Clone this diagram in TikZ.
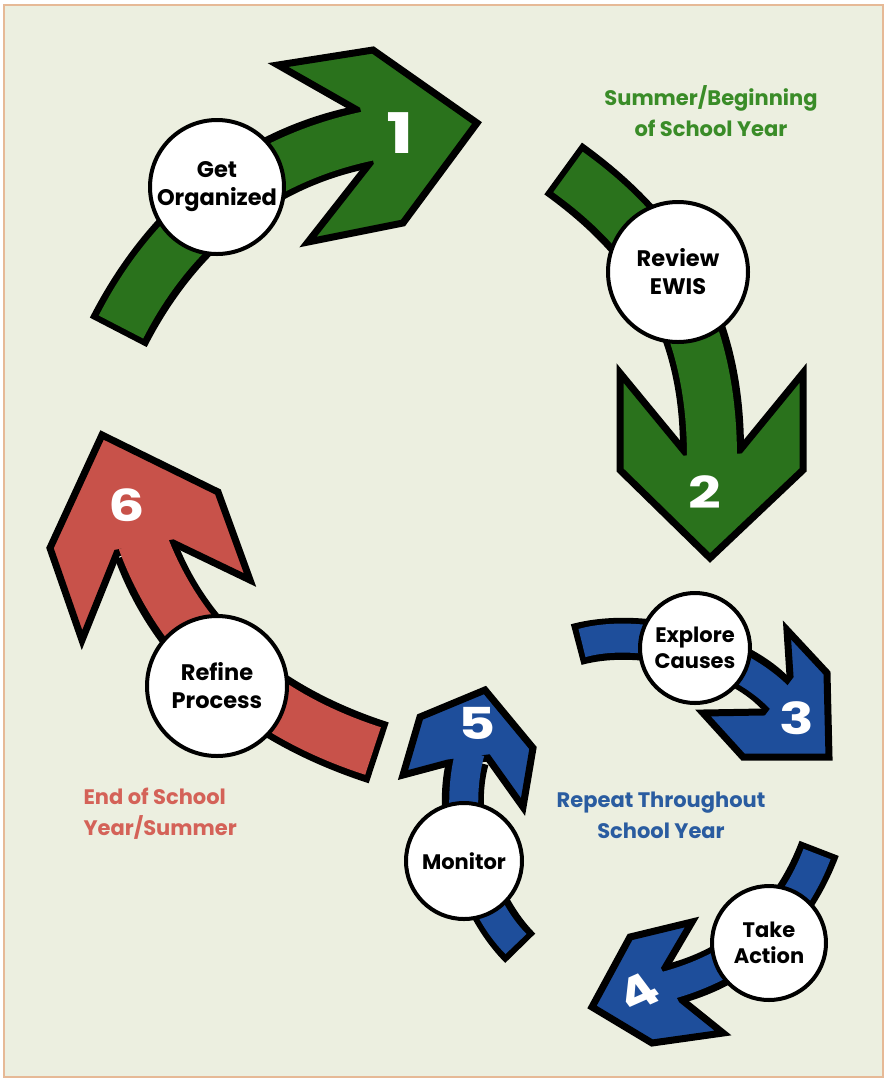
\documentclass[tikz,border=0pt]{standalone}
\usepackage{fontspec}
\setmainfont{Poppins}
\definecolor{paper}{RGB}{236,239,224}
\definecolor{frameline}{RGB}{230,185,150}
\definecolor{stepgreen}{RGB}{42,114,28}
\definecolor{stepblue}{RGB}{30,78,155}
\definecolor{stepred}{RGB}{200,82,74}
\definecolor{labelgreen}{RGB}{58,140,40}
\definecolor{labelblue}{RGB}{42,92,160}
\definecolor{labelred}{RGB}{212,98,88}

\begin{document}
\begin{tikzpicture}[x=1pt,y=-1pt,
  every node/.style={font=\bfseries},
  rim/.style={draw=black,line width=#1,shorten <=-6pt},
  band/.style={draw=#1,shorten >=-8pt},
  head/.style={draw=black,line width=7,line join=miter,fill=#1},
  stage/.style={circle,draw=black,line width=4,fill=white,inner sep=0pt,
    align=center,minimum size=#1},
  bigtext/.style={font=\bfseries\fontsize{22.5}{28}\selectfont},
  smalltext/.style={font=\bfseries\fontsize{21}{26}\selectfont},
  number/.style={text=white,xscale=1.3,font=\bfseries\fontsize{44}{44}\selectfont},
  season/.style={font=\bfseries\fontsize{21}{31}\selectfont}]

  \useasboundingbox (0,0) rectangle (887,1080);
  \fill[white] (0,0) rectangle (887,1080);
  \draw[fill=paper,draw=frameline,line width=1.5] (4,5) rectangle (883,1077);

  % step 1 - get organized
  \draw[rim=64] (121,327) .. controls (171,229) and (255,159) .. (363,137);
  \draw[head=stepgreen] (278,65) -- (357,110) -- (370,163) -- (308,242)
    -- (403,223) -- (477,123) -- (373,50) -- cycle;
  \draw[band=stepgreen,line width=50] (121,327) .. controls (171,229) and (255,159) .. (363,137);
  \node[stage=134,bigtext] (organize) at (217,187) {Get\\Organized};
  \node[number,font=\bfseries\fontsize{56}{56}\selectfont] (one) at (400,133) {1};

  % step 2 - review EWIS
  \draw[rim=64] (568,172) .. controls (657,236) and (712,320) .. (712,450);
  \draw[head=stepgreen] (620,373) -- (685,452) -- (740,450) -- (803,373)
    -- (803,470) -- (710,558) -- (620,470) -- cycle;
  \draw[band=stepgreen,line width=50] (568,172) .. controls (657,236) and (712,320) .. (712,450);
  \node[stage=140,bigtext] (review) at (678,272) {Review\\EWIS};
  \node[number] (two) at (705,492) {2};

  % step 3 - explore causes
  \draw[rim=42] (582,643) .. controls (640,627) and (736,651) .. (776,694);
  \draw[head=stepblue] (787,630) -- (790,676) -- (763,712) -- (703,713)
    -- (743,757) -- (829,757) -- (827,673) -- cycle;
  \draw[band=stepblue,line width=29] (582,643) .. controls (640,627) and (736,651) .. (776,694);
  \node[stage=110,smalltext] (explore) at (695,648) {Explore\\Causes};
  \node[number] (three) at (797,718) {3};

  % step 4 - take action
  \draw[rim=42] (817,854) .. controls (792,920) and (741,966) .. (673,984);
  \draw[head=stepblue] (692,922) -- (665,968) -- (682,1000) -- (723,1033)
    -- (652,1043) -- (592,1007) -- (630,937) -- cycle;
  \draw[band=stepblue,line width=29] (817,854) .. controls (792,920) and (741,966) .. (673,984);
  \node[stage=114,smalltext] (action) at (769,943) {Take\\Action};
  \node[number,rotate=30] (four) at (638,992) {4};

  % step 5 - monitor
  \draw[rim=42] (516,944) .. controls (474,902) and (452,818) .. (468,760);
  \draw[head=stepblue] (403,775) -- (420,717) -- (485,690) -- (533,748)
    -- (523,807) -- (488,758) -- (448,763) -- cycle;
  \draw[band=stepblue,line width=29] (516,944) .. controls (474,902) and (452,818) .. (468,760);
  \node[stage=116,smalltext] (monitor) at (464,861) {Monitor};
  \node[number] (five) at (477,723) {5};

  % step 6 - refine process
  \draw[rim=64] (373,751) .. controls (268,717) and (183,651) .. (145,548);
  \draw[head=stepred] (82,640) -- (50,548) -- (102,435) -- (218,492)
    -- (250,580) -- (173,543) -- (117,553) -- cycle;
  \draw[band=stepred,line width=50] (373,751) .. controls (268,717) and (183,651) .. (145,548);
  \node[stage=140,bigtext] (refine) at (217,686) {Refine\\Process};
  \node[number] (six) at (127,505) {6};

  % time of year
  \node[season,text=labelgreen,align=center] (summer) at (711,111) {Summer/Beginning\\of School Year};
  \node[season,text=labelblue,align=center] (repeat) at (661,815) {Repeat Throughout\\School Year};
  \node[season,text=labelred,align=left,anchor=west] (yearend) at (80,814) {End of School\\Year/Summer};

\end{tikzpicture}
\end{document}
